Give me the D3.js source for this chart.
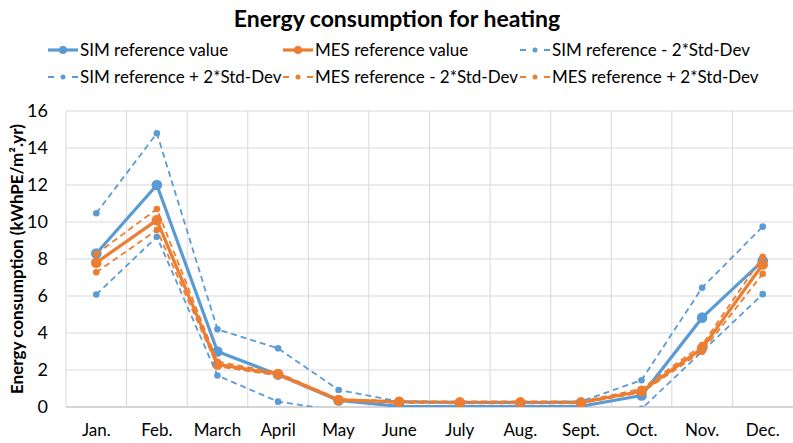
<!DOCTYPE html>
<html>
<head>
<meta charset="utf-8">
<script src="https://cdn.jsdelivr.net/npm/d3@7"></script>
<style>
  body { margin: 0; background: #fff; }
  text { font-family: Lato, "Open Sans", sans-serif; fill: #000; }
</style>
</head>
<body>
<svg id="vis" width="793" height="443"></svg>
<script>
// data
const months = ["Jan.", "Feb.", "March", "April", "May", "June", "July", "Aug.", "Sept.", "Oct.", "Nov.", "Dec."];
const simRef = [8.3, 12.0, 3.0, 1.75, 0.35, 0.04, 0.02, 0.02, 0.04, 0.62, 4.83, 7.9];
const mesRef = [7.8, 10.1, 2.3, 1.78, 0.38, 0.28, 0.25, 0.25, 0.25, 0.85, 3.17, 7.7];
const simMinus = [6.08, 9.2, 1.7, 0.29, -0.2, -0.3, -0.3, -0.3, -0.3, -0.1, 3.0, 6.1];
const simPlus = [10.47, 14.8, 4.2, 3.17, 0.92, 0.3, 0.25, 0.25, 0.3, 1.45, 6.45, 9.75];
const mesMinus = [7.28, 9.57, 2.2, 1.7, 0.35, 0.22, 0.2, 0.2, 0.2, 0.78, 3.0, 7.2];
const mesPlus = [8.27, 10.7, 2.45, 1.85, 0.42, 0.32, 0.3, 0.3, 0.3, 0.98, 3.35, 8.12];
const yTicks = [0, 2, 4, 6, 8, 10, 12, 14, 16];

const blue = "#5b9bd5", orange = "#ed7d31";
const series = [
  {name: "SIM reference value", values: simRef, color: blue, dashed: false},
  {name: "MES reference value", values: mesRef, color: orange, dashed: false},
  {name: "SIM reference - 2*Std-Dev", values: simMinus, color: blue, dashed: true},
  {name: "SIM reference + 2*Std-Dev", values: simPlus, color: blue, dashed: true},
  {name: "MES reference - 2*Std-Dev", values: mesMinus, color: orange, dashed: true},
  {name: "MES reference + 2*Std-Dev", values: mesPlus, color: orange, dashed: true}
];

function chart() {
  let margin = {top: 111, right: 0, bottom: 36, left: 66};
  let svg = d3.select("#vis");
  let width = +svg.attr("width") - margin.left - margin.right;
  let height = +svg.attr("height") - margin.top - margin.bottom;

  let x = d3.scaleBand().domain(months).range([0, width]).padding(0);
  let y = d3.scaleLinear().domain([0, 16]).range([height, 0]);

  let g = svg.append("g").attr("transform", `translate(${margin.left}, ${margin.top})`);

  svg.append("defs").append("clipPath").attr("id", "plotclip")
    .append("rect").attr("x", 0).attr("y", 0).attr("width", width).attr("height", height);

  // horizontal grid
  g.append("g").selectAll("line").data(yTicks).enter().append("line")
    .attr("x1", 0).attr("x2", width)
    .attr("y1", d => y(d)).attr("y2", d => y(d))
    .attr("stroke", "#d9d9d9").attr("stroke-width", 1);
  // vertical grid at category boundaries
  g.append("g").selectAll("line").data(months).enter().append("line")
    .attr("x1", d => x(d)).attr("x2", d => x(d))
    .attr("y1", 0).attr("y2", height)
    .attr("stroke", "#d9d9d9").attr("stroke-width", 1);
  g.append("line").attr("x1", 0).attr("x2", width).attr("y1", height).attr("y2", height)
    .attr("stroke", "#bfbfbf");

  // y labels
  g.append("g").selectAll("text").data(yTicks).enter().append("text")
    .attr("x", -18).attr("y", d => y(d)).attr("dy", "0.35em")
    .attr("text-anchor", "end").style("font-size", "18px")
    .text(d => d);
  // x labels
  g.append("g").selectAll("text").data(months).enter().append("text")
    .attr("x", d => x(d) + x.bandwidth() / 2).attr("y", height + 29)
    .attr("text-anchor", "middle").style("font-size", "17px")
    .text(d => d);

  let line = d3.line()
    .x((d, i) => x(months[i]) + x.bandwidth() / 2)
    .y(d => y(d));

  let plot = g.append("g").attr("clip-path", "url(#plotclip)");
  series.forEach(s => {
    let sg = plot.append("g");
    sg.append("path").datum(s.values)
      .attr("fill", "none")
      .attr("stroke", s.color)
      .attr("stroke-width", s.dashed ? 1.8 : 3.2)
      .attr("stroke-dasharray", s.dashed ? "6,4" : null)
      .attr("stroke-linejoin", "round")
      .attr("d", line);
    sg.selectAll("circle").data(s.values).enter().append("circle")
      .attr("cx", (d, i) => x(months[i]) + x.bandwidth() / 2)
      .attr("cy", d => y(d))
      .attr("r", s.dashed ? 3.3 : 5.3)
      .attr("fill", s.color);
  });

  // title
  svg.append("text").attr("x", 397).attr("y", 27)
    .attr("text-anchor", "middle")
    .style("font-size", "23px").style("font-weight", "bold")
    .text("Energy consumption for heating");

  // y axis title
  svg.append("text")
    .attr("transform", `translate(23, ${margin.top + height / 2}) rotate(-90)`)
    .attr("text-anchor", "middle")
    .style("font-size", "17px").style("font-weight", "bold")
    .text("Energy consumption (kWhPE/m\u00b2.yr)");

  // legend
  let legX = [48, 283, 520];
  let legY = [50, 77];
  series.forEach((s, i) => {
    let lx = legX[i % 3], ly = legY[Math.floor(i / 3)];
    let lg = svg.append("g").attr("transform", `translate(${lx}, ${ly})`);
    lg.append("line").attr("x1", 0).attr("x2", 30).attr("y1", 0).attr("y2", 0)
      .attr("stroke", s.color)
      .attr("stroke-width", s.dashed ? 1.8 : 3.2)
      .attr("stroke-dasharray", s.dashed ? "6,18" : null);
    lg.append("circle").attr("cx", 15).attr("cy", 0)
      .attr("r", s.dashed ? 2.5 : 4).attr("fill", s.color);
    lg.append("text").attr("x", 32).attr("y", 0).attr("dy", "0.35em")
      .style("font-size", "17px").text(s.name);
  });
}

document.addEventListener('DOMContentLoaded', () => {
  chart();
});
</script>
</body>
</html>
